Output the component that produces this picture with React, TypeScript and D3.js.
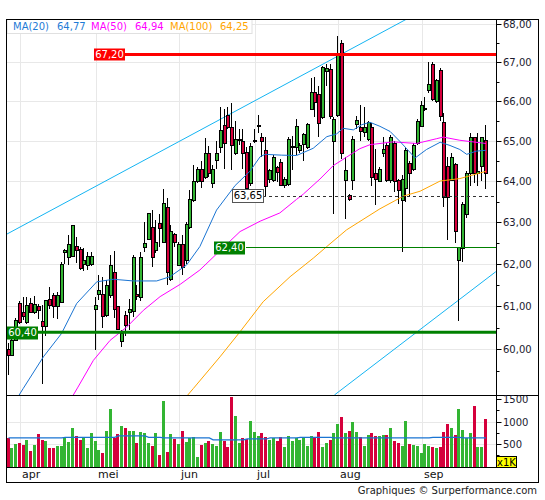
import React from 'react';
import * as d3 from 'd3';

// daily candles: [open, high, low, close]
const ohlc: [number, number, number, number][] = [
  [60.0, 60.14, 59.41, 59.87], [59.87, 60.25, 59.85, 60.21], [60.21, 60.72, 60.19, 60.68], [61.07, 61.12, 60.6, 60.64],
  [60.88, 61.22, 60.68, 60.77], [60.64, 61.22, 60.6, 61.03], [61.07, 61.2, 60.85, 60.87], [60.87, 61.25, 60.82, 61.05],
  [61.0, 61.05, 60.7, 60.92], [60.66, 61.03, 59.21, 60.55], [60.55, 61.16, 60.3, 61.16], [61.18, 61.45, 60.95, 61.04],
  [61.26, 61.32, 60.72, 61.0], [61.0, 61.34, 60.7, 61.27], [61.1, 62.05, 61.08, 62.0], [62.3, 62.36, 62.0, 62.34],
  [62.18, 62.7, 61.98, 62.48], [62.19, 62.95, 62.17, 62.95], [62.44, 62.65, 62.02, 62.33], [62.36, 62.4, 61.86, 61.9],
  [62.0, 62.38, 61.84, 62.1], [61.98, 62.3, 61.85, 62.19], [62.0, 62.28, 61.95, 62.19], [60.94, 61.21, 59.98, 61.03],
  [61.29, 61.74, 61.15, 61.38], [61.3, 61.69, 60.5, 60.78], [60.8, 61.62, 60.76, 61.5], [61.26, 62.22, 61.2, 61.98],
  [61.82, 62.32, 60.72, 60.95], [61.0, 61.0, 60.45, 60.47], [60.19, 60.45, 60.06, 60.39], [60.8, 60.9, 60.3, 60.56],
  [60.87, 61.17, 60.45, 60.93], [60.9, 62.21, 60.75, 62.18], [61.3, 61.5, 61.15, 61.24], [61.22, 62.3, 61.12, 62.18],
  [62.41, 63.0, 62.3, 62.5], [62.6, 63.22, 62.57, 63.22], [62.9, 63.3, 61.92, 62.18], [62.33, 63.06, 62.26, 62.53],
  [62.99, 63.2, 62.42, 62.87], [62.53, 63.82, 62.53, 63.47], [63.37, 63.6, 61.5, 61.82], [61.64, 62.95, 61.6, 62.8],
  [62.71, 62.75, 62.4, 62.53], [61.98, 62.52, 61.95, 62.48], [62.48, 62.7, 61.75, 61.94], [62.09, 63.0, 62.0, 62.96],
  [62.9, 63.8, 62.85, 63.56], [63.54, 64.4, 63.5, 64.0], [64.02, 64.35, 63.97, 64.3], [64.3, 64.5, 63.85, 64.02],
  [64.1, 65.08, 64.05, 64.7], [64.7, 64.87, 64.1, 64.22], [63.95, 64.4, 63.85, 64.3], [64.52, 65.0, 64.3, 64.7],
  [64.86, 65.85, 64.7, 65.27], [65.4, 65.8, 64.3, 64.94], [65.65, 65.85, 65.3, 65.36], [65.36, 65.95, 64.28, 64.9],
  [64.7, 65.5, 64.65, 65.06], [65.04, 65.3, 64.9, 65.06], [65.0, 65.3, 64.3, 64.7], [64.74, 64.85, 63.64, 63.84],
  [63.97, 64.95, 63.9, 64.88], [65.0, 65.3, 64.95, 65.03], [65.38, 65.65, 65.2, 65.4], [65.1, 65.2, 64.6, 65.0],
  [64.77, 65.1, 63.65, 63.9], [64.05, 64.3, 63.95, 64.28], [64.03, 64.65, 63.98, 64.6], [64.36, 64.38, 63.98, 64.24],
  [64.48, 64.55, 63.88, 63.91], [63.92, 64.1, 63.85, 64.05], [63.93, 65.1, 63.9, 65.04], [64.85, 65.12, 64.28, 64.88],
  [64.86, 65.55, 64.65, 65.38], [64.77, 64.95, 64.7, 64.9], [64.92, 65.2, 64.5, 65.17], [64.86, 65.45, 64.8, 65.42],
  [65.8, 66.6, 65.78, 66.24], [66.24, 66.62, 65.6, 65.98], [66.18, 66.4, 65.1, 65.46], [65.6, 66.9, 65.55, 66.88],
  [66.78, 66.96, 66.4, 66.84], [66.82, 66.95, 65.55, 65.62], [65.0, 65.6, 63.2, 65.55], [65.65, 67.68, 65.6, 67.18],
  [67.5, 67.57, 64.55, 64.7], [64.03, 64.6, 63.09, 64.27], [63.66, 63.7, 63.52, 63.56], [64.03, 65.12, 63.78, 65.05],
  [65.42, 65.62, 65.3, 65.52], [65.36, 65.9, 65.0, 65.24], [65.22, 65.85, 65.1, 65.36], [65.06, 65.5, 65.0, 65.47],
  [65.36, 65.45, 63.9, 64.1], [64.2, 64.8, 63.42, 64.07], [64.02, 64.35, 64.0, 64.3], [64.7, 65.1, 64.6, 64.8],
  [64.9, 64.95, 63.98, 64.03], [64.03, 65.15, 63.95, 65.1], [64.95, 65.0, 63.75, 64.0], [64.03, 64.05, 63.45, 63.8],
  [63.55, 64.15, 62.3, 64.05], [63.85, 64.85, 63.5, 64.78], [64.45, 64.5, 63.65, 64.2], [64.3, 64.95, 64.25, 64.9],
  [64.95, 65.55, 64.9, 65.5], [65.38, 66.0, 65.35, 65.9], [65.8, 66.1, 65.75, 65.84], [66.28, 67.0, 66.2, 66.45],
  [66.96, 67.0, 66.0, 66.07], [66.0, 66.58, 65.95, 66.55], [66.79, 66.85, 65.5, 65.62], [65.47, 65.7, 63.37, 63.63],
  [64.37, 64.6, 62.57, 63.63], [64.03, 64.7, 64.0, 64.6], [64.42, 64.45, 62.5, 62.8], [62.1, 62.42, 60.67, 62.4],
  [62.38, 63.5, 62.05, 63.45], [63.2, 64.25, 63.1, 64.2], [64.2, 65.2, 63.9, 65.1], [65.1, 65.1, 63.95, 64.2],
  [64.2, 65.2, 63.9, 64.25], [64.37, 65.1, 64.0, 65.1], [65.02, 65.4, 63.82, 64.22],
];

const volumes = [
  626, 405, 509, 531, 480, 597, 354, 487, 730, 597,
  575, 405, 405, 449, 465, 664, 553, 863, 686, 597,
  664, 420, 752, 575, 376, 310, 796, 1283, 642, 730,
  907, 863, 796, 796, 531, 774, 752, 531, 465, 752,
  265, 1460, 332, 730, 619, 509, 796, 553, 642, 664,
  221, 487, 531, 575, 509, 465, 774, 575, 442, 1549,
  1128, 531, 642, 619, 1018, 774, 686, 752, 664, 597,
  642, 575, 648, 427, 686, 575, 635, 597, 626, 465,
  686, 635, 774, 442, 524, 597, 752, 951, 1091, 752,
  796, 996, 774, 648, 465, 708, 737, 686, 686, 708,
  701, 847, 575, 524, 465, 1018, 502, 487, 465, 303,
  502, 465, 436, 414, 427, 774, 951, 847, 708, 1276,
  819, 635, 752, 1350, 427, 442, 1062,
];

// moving averages: [candle index, value]
const ma20: [number, number][] = [
  [2.8, 58.96], [3.9, 59.11], [9.2, 59.83], [14, 60.37], [18, 61.07], [23.3, 61.58], [27.7, 61.64], [32.9, 61.6],
  [39.1, 61.6], [42.6, 61.7], [47, 61.98], [50.5, 62.42], [54.9, 63.3], [59.8, 63.9], [63.7, 64.25], [66.4, 64.61],
  [67.7, 64.67], [72, 64.65], [76, 64.64], [80.4, 64.82], [84, 65.11], [86.6, 65.18], [88.3, 65.32], [91, 65.28],
  [93.2, 65.41], [95.4, 65.47], [98, 65.37], [100.7, 65.24], [103.3, 64.99], [107.3, 64.58], [110.3, 64.79],
  [113.9, 64.97], [116.5, 64.89], [119.1, 64.79], [120.9, 64.67], [123.5, 64.75], [126, 64.77],
];
const ma50: [number, number][] = [
  [17.1, 58.96], [18.2, 59.12], [22.4, 59.75], [26.8, 60.21], [31.2, 60.52], [35.6, 60.91], [40, 61.23], [45.3, 61.52],
  [50.5, 61.86], [55, 62.25], [61.1, 62.78], [66.4, 63.03], [71.6, 63.23], [76, 63.56], [77.8, 63.69], [82.2, 64.06],
  [85.7, 64.39], [89.2, 64.6], [92.7, 64.81], [95.4, 64.91], [101.5, 64.98], [107.7, 64.94], [113, 65.06],
  [114.7, 65.1], [119.1, 65.02], [126, 64.94],
];
const ma100: [number, number][] = [
  [47.3, 58.96], [48.8, 59.11], [55.8, 59.83], [61.1, 60.41], [67.2, 61.11], [74.3, 61.7], [80.4, 62.14], [84, 62.42],
  [89.2, 62.82], [98, 63.33], [104.2, 63.64], [108.6, 63.76], [113.9, 64.01], [119.1, 64.07], [126, 64.25],
];
const volMa: [number, number][] = [
  [0, 635], [14, 635], [15, 648], [28, 648], [29, 679], [36, 679], [37, 648], [40, 648], [41, 635], [53, 635],
  [54, 591], [62, 591], [63, 612], [68, 612], [69, 635], [76, 635], [77, 648], [85, 648], [86, 635], [111, 635],
  [112, 648], [119, 648], [120, 635], [126, 635],
];

const channelUpper: [number, number][] = [[-0.4, 62.72], [105.1, 68.12]];
const channelLower: [number, number][] = [[86.0, 58.96], [128.6, 61.82]];

const monthStarts = [3, 23, 45, 65, 87, 109];
const monthLabels = ['apr', 'mei', 'jun', 'jul', 'aug', 'sep'];
const priceTicks = [60, 61, 62, 63, 64, 65, 66, 67, 68];
const priceMinor = [59.5, 60.5, 61.5, 62.5, 63.5, 64.5, 65.5, 66.5, 67.5];
const volTicks = [500, 1000, 1500];
const volMinor = [250, 750, 1250];

const FONT = 'DejaVu Sans, Verdana, sans-serif';
const GREEN = '#33b533';
const RED = '#d5003c';

const fmt = (v: number) => v.toFixed(2).replace('.', ',');

const App: React.FC = () => {
  const L = 6.5, R = 496.5, T = 19.5, MB = 395.5, VB = 467.5, FR = 538.5, FB = 482.5;

  const x = d3.scaleLinear().domain([0, 126]).range([8.5, 486]);
  const y = d3.scaleLog().domain([58.96, 68.12]).range([395, 19]);
  const yv = d3.scaleLinear().domain([0, 1500]).range([466.5, 399]);

  const line = d3.line<[number, number]>().x(d => x(d[0])).y(d => y(d[1]));
  const vline = d3.line<[number, number]>().x(d => x(d[0])).y(d => yv(d[1]));

  const last = (a: [number, number][]) => a[a.length - 1][1];
  const snap = (v: number) => Math.round(v) + 0.5;

  const levelBox = (xLeft: number, value: number, bg: string, fg: string, border?: string, h = 13) => {
    const yc = y(value);
    return (
      <g>
        <rect x={xLeft} y={Math.round(yc - h / 2) + 0.5} width={31} height={h} fill={bg} stroke={border || 'none'} />
        <text x={xLeft + 15.5} y={yc + 0.5} fill={fg} fontSize={10} fontFamily={FONT} textAnchor="middle" dominantBaseline="middle">
          {fmt(value)}
        </text>
      </g>
    );
  };

  return (
    <div style={{ position: 'fixed', left: 0, top: 0 }}>
      <svg width={545} height={500} style={{ display: 'block', background: '#fff' }}>
        <defs>
          <clipPath id="main">
            <rect x={L} y={T} width={R - L} height={MB - T} />
          </clipPath>
        </defs>

        {/* grid */}
        {priceTicks.map(p => (
          <line key={'g' + p} x1={L} x2={R} y1={snap(y(p))} y2={snap(y(p))} stroke="#e8e8e8" />
        ))}
        {volTicks.slice(0, 2).map(v => (
          <line key={'gv' + v} x1={L} x2={R} y1={snap(yv(v))} y2={snap(yv(v))} stroke="#e8e8e8" />
        ))}
        {monthStarts.map(i => (
          <line key={'m' + i} x1={snap(x(i))} x2={snap(x(i))} y1={T} y2={VB} stroke="#e8e8e8" />
        ))}

        <g clipPath="url(#main)">
          <path d={line(channelUpper) || ''} fill="none" stroke="#14b4f2" strokeWidth={1} />
          <path d={line(channelLower) || ''} fill="none" stroke="#14b4f2" strokeWidth={1} />

          {/* candles */}
          {ohlc.map(([o, h, l, c], i) => {
            const cx = Math.round(x(i));
            const up = c >= o;
            const yt = Math.round(y(Math.max(o, c)));
            const yb = Math.round(y(Math.min(o, c)));
            return (
              <g key={'c' + i} shapeRendering="crispEdges">
                <line x1={cx - 0.5} x2={cx - 0.5} y1={y(h)} y2={y(l)} stroke="#000" />
                <rect x={cx - 1.5} y={yt + 0.5} width={3} height={Math.max(1, yb - yt)} fill={up ? GREEN : RED} stroke="#000" />
              </g>
            );
          })}

          <path d={line(ma100) || ''} fill="none" stroke="#ffa500" strokeWidth={1} />
          <path d={line(ma50) || ''} fill="none" stroke="#ff00ff" strokeWidth={1} />
          <path d={line(ma20) || ''} fill="none" stroke="#1a74d2" strokeWidth={1} />

          {/* levels */}
          <line x1={125} x2={R} y1={y(67.2)} y2={y(67.2)} stroke="#ff0000" strokeWidth={3} />
          <line x1={246} x2={R} y1={snap(y(62.4))} y2={snap(y(62.4))} stroke="#008000" strokeWidth={1} />
          <line x1={L} x2={R} y1={y(60.4)} y2={y(60.4)} stroke="#008000" strokeWidth={3} />
          <line x1={263} x2={R} y1={snap(y(63.65))} y2={snap(y(63.65))} stroke="#333" strokeDasharray="3,3" />
        </g>

        {levelBox(94, 67.2, '#ff0000', '#fff', undefined, 12)}
        {levelBox(214, 62.4, '#008000', '#fff')}
        {levelBox(7, 60.4, '#008000', '#fff')}
        {levelBox(232.5, 63.65, '#fff', '#000', '#555')}

        {/* volume */}
        {volumes.map((v, i) => {
          const cx = Math.round(x(i));
          const [o, , , c] = ohlc[i];
          const yt = Math.round(yv(v));
          return (
            <rect key={'v' + i} x={cx - 2} y={yt} width={3} height={467 - yt} fill={c >= o ? GREEN : RED} shapeRendering="crispEdges" />
          );
        })}
        <path d={vline(volMa) || ''} fill="none" stroke="#1a74d2" strokeWidth={1.2} />

        {/* legend */}
        <rect x={7} y={T} width={245} height={14} fill="#fff" stroke="#e0e0e0" />
        <g fontFamily={FONT} fontSize={10} dominantBaseline="middle">
          <text x={13} y={27} fill="#1e7bd6">MA(20)</text>
          <text x={57} y={27} fill="#1e7bd6">{fmt(last(ma20))}</text>
          <text x={91} y={27} fill="#ff00ff">MA(50)</text>
          <text x={135} y={27} fill="#ff00ff">{fmt(last(ma50))}</text>
          <text x={170} y={27} fill="#ffa500">MA(100)</text>
          <text x={220} y={27} fill="#ffa500">{fmt(last(ma100))}</text>
        </g>

        {/* frame and axes */}
        <rect x={L} y={T} width={FR - L} height={FB - T} fill="none" stroke="#000" />
        <line x1={L} x2={FR} y1={MB} y2={MB} stroke="#000" />
        <line x1={L} x2={R} y1={VB} y2={VB} stroke="#000" />
        <line x1={R} x2={R} y1={T} y2={VB} stroke="#000" />

        {priceTicks.map(p => {
          const yy = snap(y(p));
          return (
            <g key={'pt' + p}>
              <line x1={R} x2={R + 5} y1={yy} y2={yy} stroke="#000" />
              <text x={503} y={yy} fontFamily={FONT} fontSize={10} fill="#1a1a2e" dominantBaseline="middle">{fmt(p)}</text>
            </g>
          );
        })}
        {priceMinor.map(p => {
          const yy = snap(y(p));
          return yy > T && yy < MB ? <line key={'pm' + p} x1={R} x2={R + 3} y1={yy} y2={yy} stroke="#000" /> : null;
        })}
        {volTicks.map(v => {
          const yy = snap(yv(v));
          return (
            <g key={'vt' + v}>
              <line x1={R} x2={R + 5} y1={yy} y2={yy} stroke="#000" />
              <text x={503} y={yy} fontFamily={FONT} fontSize={10} fill="#1a1a2e" dominantBaseline="middle">{v}</text>
            </g>
          );
        })}
        {volMinor.map(v => {
          const yy = snap(yv(v));
          return <line key={'vm' + v} x1={R} x2={R + 3} y1={yy} y2={yy} stroke="#000" />;
        })}
        <rect x={R} y={456.5} width={20} height={11} fill="#ffff00" stroke="#000" />
        <text x={R + 10} y={462.5} fontFamily={FONT} fontSize={10} textAnchor="middle" dominantBaseline="middle">x1K</text>

        {monthStarts.map((i, k) => (
          <text key={'ml' + i} x={Math.round(x(i)) + 2} y={475} fontFamily={FONT} fontSize={11} dominantBaseline="middle" fill="#111">
            {monthLabels[k]}
          </text>
        ))}

        <text x={537} y={491} textAnchor="end" fontFamily={FONT} fontSize={10} dominantBaseline="middle" fill="#222">
          Graphiques © Surperformance.com
        </text>
      </svg>
    </div>
  );
};

export default App;
